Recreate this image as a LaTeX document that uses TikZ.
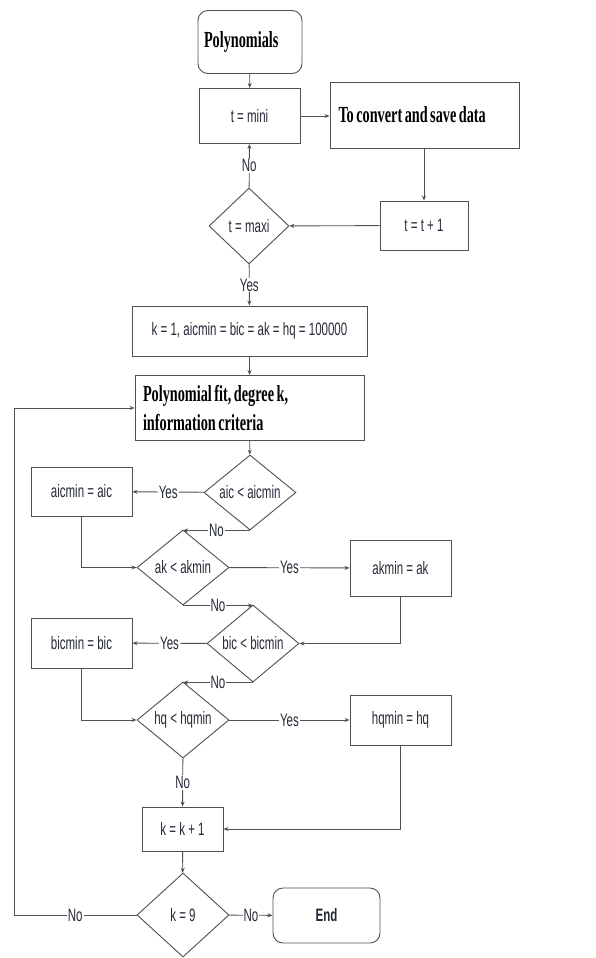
\documentclass[tikz,border=0pt]{standalone}
\usepackage{fontspec}
\setmainfont{Liberation Sans}
\newfontfamily\flowsans[FakeStretch=0.64]{Liberation Sans}
\newfontfamily\flowserif[FakeStretch=0.62,BoldFeatures={FakeStretch=0.62,WordSpace=0.7}]{Liberation Serif}
\usepackage{xcolor}
\usetikzlibrary{positioning,arrows.meta,shapes.geometric}
\definecolor{linec}{RGB}{80,80,80}
\definecolor{textc}{RGB}{38,42,56}
\tikzset{
  blk/.style={draw=linec,line width=0.9pt,align=center,text=textc,inner sep=2pt,
    font=\flowsans\fontsize{18}{20}\selectfont},
  term/.style={blk,rounded corners=10pt},
  dec/.style={blk,diamond,inner sep=0pt,shape aspect=1.3},
  big/.style={text=black,align=flush left,font=\flowserif\bfseries\fontsize{23}{29}\selectfont},
  lbl/.style={fill=white,inner sep=1pt,text=textc,font=\flowsans\fontsize{18}{20}\selectfont},
  ar/.style={-{Stealth[length=5pt,width=4pt]},draw=linec,line width=0.9pt},
}
\begin{document}
\begin{tikzpicture}[x=1pt,y=-1pt]
  \useasboundingbox[fill=white] (0,0) rectangle (595,958);
  % outer loop over t
  \node[term,big,minimum width=104pt,minimum height=63pt,text width=92pt] (poly) at (250,42) {Polynomials};
  \node[blk,minimum width=101pt,minimum height=55pt] (tmini) at (249.5,116) {t = mini};
  \node[blk,big,minimum width=189pt,minimum height=66pt,text width=172pt] (conv) at (424.5,115) {To convert and save data};
  \node[blk,minimum width=88pt,minimum height=49pt] (tplus) at (424,225.5) {t = t + 1};
  \node[dec,minimum width=80pt,minimum height=76pt] (tmaxi) at (249,226) {t = maxi};
  \node[blk,minimum width=235pt,minimum height=50pt] (kone) at (249.5,331) {k = 1, aicmin = bic = ak = hq = 100000};
  \node[blk,big,minimum width=229pt,minimum height=65pt,text width=213pt] (fit) at (249.5,408)
    {Polynomial fit, degree k,\\ information criteria};
  % criteria checks
  \node[dec,minimum width=92pt,minimum height=75pt] (aic) at (250,492.5) {aic < aicmin};
  \node[blk,minimum width=101pt,minimum height=49pt] (aicset) at (81.5,491.5) {aicmin = aic};
  \node[dec,minimum width=92pt,minimum height=75pt] (ak) at (183,567.5) {ak < akmin};
  \node[blk,minimum width=101pt,minimum height=56pt] (akset) at (400.5,568) {akmin = ak};
  \node[dec,minimum width=92pt,minimum height=77pt] (bic) at (253,643.5) {bic < bicmin};
  \node[blk,minimum width=101pt,minimum height=50pt] (bicset) at (81.5,643) {bicmin = bic};
  \node[dec,minimum width=92pt,minimum height=76pt] (hq) at (183,720) {hq < hqmin};
  \node[blk,minimum width=101pt,minimum height=50pt] (hqset) at (400.5,720) {hqmin = hq};
  \node[blk,minimum width=81pt,minimum height=44pt] (kinc) at (182.5,829) {k = k + 1};
  \node[dec,minimum width=92pt,minimum height=84pt] (kend) at (183,915) {k = 9};
  \node[term,font=\flowsans\bfseries\fontsize{18}{20}\selectfont,minimum width=107pt,minimum height=55pt] (stop) at (326.5,915.5) {End};
  \coordinate (back) at (14,915);

  \draw[ar] (poly) -- (tmini);
  \draw[ar] (tmini.east) -- (tmini.east -| conv.west);
  \draw[ar] (conv.south -| tplus.north) -- (tplus.north);
  \draw[ar] (tplus) -- (tmaxi);
  \draw[ar] (tmaxi) -- node[lbl]{No} (tmini);
  \draw[ar] (tmaxi) -- node[lbl]{Yes} (kone);
  \draw[ar] (kone) -- (fit);
  \draw[ar] (fit) -- (aic);
  \draw[ar] (aic) -- node[lbl]{Yes} (aicset);
  \draw[ar] (aic.south) -- node[lbl]{No} (aic.south -| ak.north);
  \draw[ar] (aicset) |- (ak);
  \draw[ar] (ak) -- node[lbl]{Yes} (akset);
  \draw[ar] (ak.south) -- node[lbl]{No} (ak.south -| bic.north);
  \draw[ar] (akset) |- (bic);
  \draw[ar] (bic) -- node[lbl]{Yes} (bicset);
  \draw[ar] (bic.south) -- node[lbl]{No} (bic.south -| hq.north);
  \draw[ar] (bicset) |- (hq);
  \draw[ar] (hq) -- node[lbl]{Yes} (hqset);
  \draw[ar] (hq) -- node[lbl]{No} (kinc);
  \draw[ar] (hqset) |- (kinc);
  \draw[ar] (kinc) -- (kend);
  \draw[ar] (kend) -- node[lbl]{No} (stop);
  \draw[ar] (kend.west) -- node[lbl]{No} (back) |- (fit.west);
\end{tikzpicture}
\end{document}
